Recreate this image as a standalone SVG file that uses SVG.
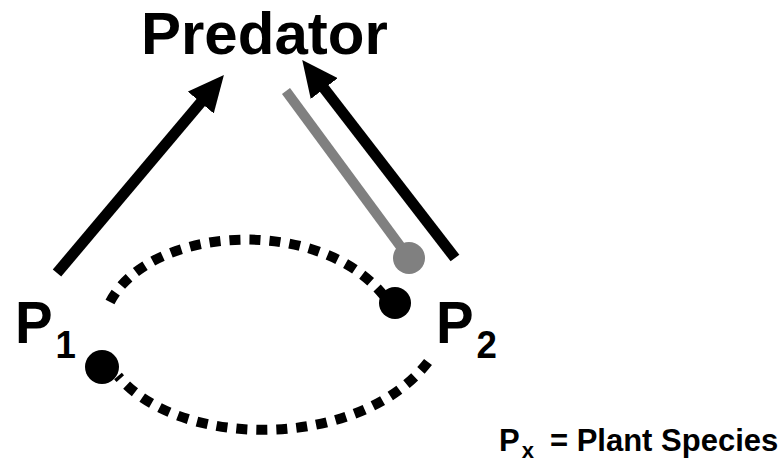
<svg xmlns="http://www.w3.org/2000/svg" width="778" height="464" viewBox="0 0 778 464">
  <style>
    .lbl { font-family: "Liberation Sans", Arial, sans-serif; font-weight: bold; fill: #000; }
    .arrow { stroke: #000; stroke-width: 11; fill: none; stroke-linecap: butt; }
    .inhib { stroke: #808080; stroke-width: 10; fill: none; }
    .assoc { stroke: #000; stroke-width: 10; fill: none; stroke-dasharray: 11 9; stroke-linecap: butt; }
  </style>
  <defs>
    <marker id="head" viewBox="0 0 36 34" markerUnits="userSpaceOnUse" markerWidth="36" markerHeight="34" refX="2" refY="17" orient="auto">
      <path d="M0,0 L36,17 L0,34 Z" fill="#000"/>
    </marker>
  </defs>

  <g id="predator">
    <text class="lbl" x="141" y="54" font-size="60">Predator</text>
  </g>

  <g id="p1">
    <text class="lbl" transform="translate(15,343) scale(0.94,1)" font-size="60">P<tspan font-size="39" dx="3" dy="15">1</tspan></text>
  </g>

  <g id="p2">
    <text class="lbl" transform="translate(436,343) scale(0.94,1)" font-size="60">P<tspan font-size="39" dx="3" dy="15">2</tspan></text>
  </g>

  <g id="legend">
    <text class="lbl" x="499" y="451" font-size="31">P<tspan font-size="22" dx="2" dy="7">x</tspan><tspan dx="16" dy="-7">= Plant Species</tspan></text>
  </g>

  <g id="connectors">
    <!-- predation: P1 -> Predator, P2 -> Predator -->
    <line class="arrow" x1="57" y1="273" x2="202" y2="101" marker-end="url(#head)"/>
    <line class="arrow" x1="455" y1="258" x2="323" y2="87" marker-end="url(#head)"/>
    <!-- predator effect on P2 (round-ended) -->
    <line class="inhib" x1="286" y1="91" x2="409" y2="258"/>
    <circle cx="409" cy="258" r="16" fill="#808080"/>
    <!-- plant-plant interactions -->
    <path class="assoc" d="M110,302 C150,225 320,215 384,296"/>
    <circle cx="395" cy="303" r="16" fill="#000"/>
    <path class="assoc" d="M428,362 C360,450 180,450 118,376"/>
    <circle cx="102" cy="367" r="17" fill="#000"/>
  </g>
</svg>
